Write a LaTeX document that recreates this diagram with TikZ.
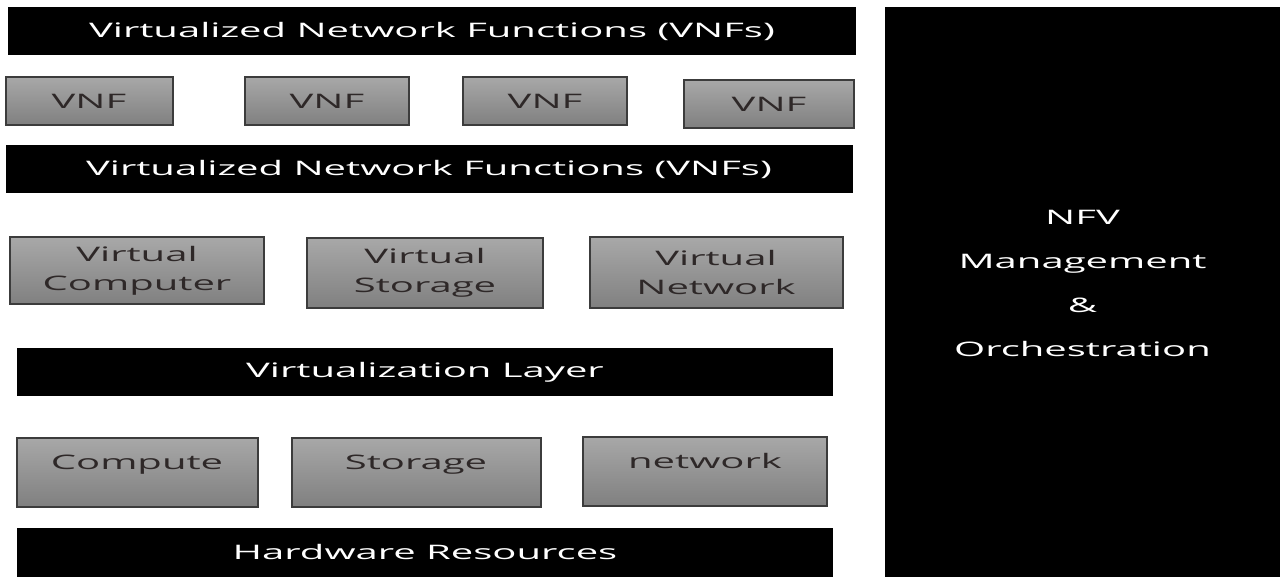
\documentclass[tikz,border=0pt]{standalone}
\usepackage{fontspec}
\setmainfont[FakeStretch=2.0]{Open Sans}
\usetikzlibrary{positioning}
\definecolor{boxtop}{HTML}{A8A8A8}
\definecolor{boxbot}{HTML}{808080}
\definecolor{boxline}{HTML}{3C3C3C}
\definecolor{boxtext}{HTML}{2E2828}
\tikzset{
  bar/.style={fill=black, text=white, inner sep=0pt, font=\fontsize{20}{22}\selectfont},
  gbox/.style={draw=boxline, line width=2pt, top color=boxtop, bottom color=boxbot,
    text=boxtext, inner sep=0pt, align=center, font=\fontsize{20}{29}\selectfont},
  hwbox/.style={gbox, text height=32pt, text depth=37pt}
}
\begin{document}
\begin{tikzpicture}[x=1pt,y=-1pt]
		\useasboundingbox (0,0) rectangle (1280,577);
		% VNF layer
		\node[bar, minimum width=848pt, minimum height=48pt] (vnfs top) at (432,31) {Virtualized Network Functions (VNFs)};
		\node[gbox, minimum width=167pt, minimum height=48pt] (vnf1) at (89,101) {VNF};
		\node[gbox, minimum width=164pt, minimum height=48pt] (vnf2) at (327,101) {VNF};
		\node[gbox, minimum width=164pt, minimum height=48pt] (vnf3) at (545,101) {VNF};
		\node[gbox, minimum width=170pt, minimum height=48pt] (vnf4) at (769,104) {VNF};
		\node[bar, minimum width=847pt, minimum height=48pt] (vnfs bottom) at (429,169) {Virtualized Network Functions (VNFs)};
		% virtual resources
		\node[gbox, minimum width=254pt, minimum height=67pt] (vcomp) at (137,271) {Virtual\\Computer};
		\node[gbox, minimum width=236pt, minimum height=70pt] (vstor) at (425,273) {Virtual\\Storage};
		\node[gbox, minimum width=253pt, minimum height=71pt] (vnet) at (716,273) {Virtual\\Network};
		\node[bar, minimum width=816pt, minimum height=48pt] (virt layer) at (425,372) {Virtualization Layer};
		% hardware
		\node[hwbox, minimum width=241pt] (comp) at (137,472) {Compute};
		\node[hwbox, minimum width=249pt] (stor) at (416,472) {Storage};
		\node[hwbox, minimum width=244pt] (net) at (705,471) {network};
		\node[bar, minimum width=816pt, minimum height=49pt] (hw) at (425,552) {Hardware Resources};
		% management and orchestration
		\node[bar, minimum width=395pt, minimum height=570pt,
		  label={[bar, align=center, font=\fontsize{20}{44}\selectfont, yshift=9pt]center:NFV\\Management\\\&\\Orchestration}] (mano) at (1082.5,292) {};
	\end{tikzpicture}
\end{document}
